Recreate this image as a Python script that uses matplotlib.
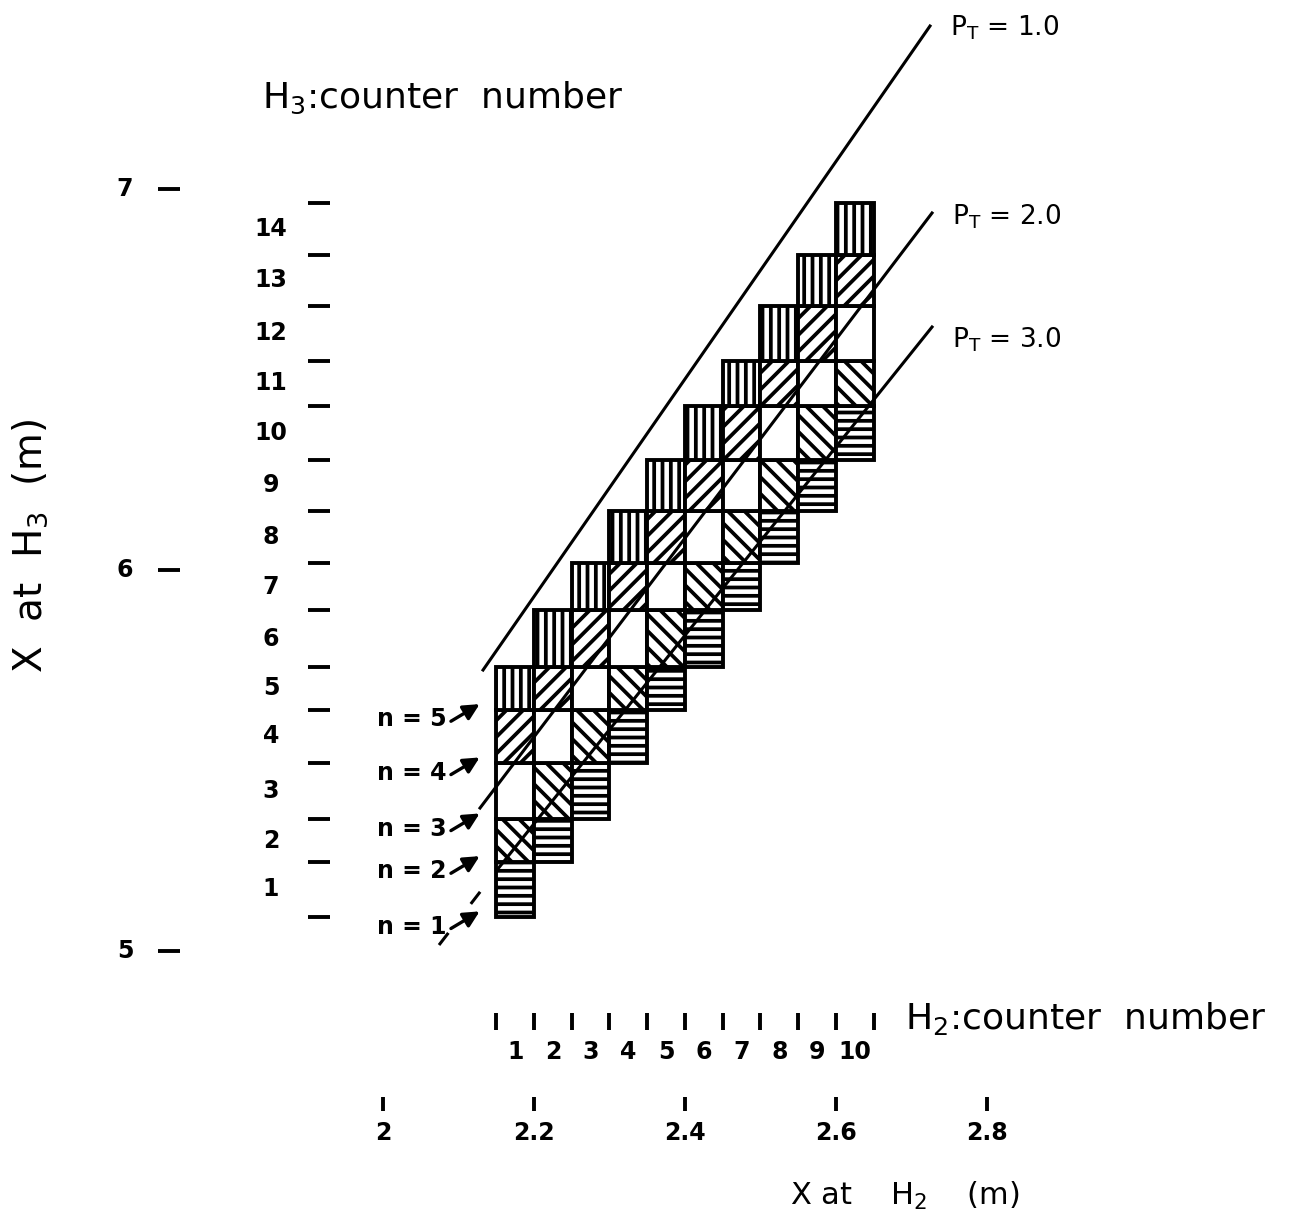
import matplotlib
matplotlib.use("Agg")
import matplotlib.pyplot as plt
from matplotlib.patches import Rectangle

plt.rcParams['font.family'] = ['DejaVu Sans']
plt.rcParams['mathtext.default'] = 'regular'
plt.rcParams['hatch.linewidth'] = 2.7

# counter boundaries in metres
h2_edges = [2.15, 2.20, 2.25, 2.30, 2.35, 2.40, 2.45, 2.50, 2.55, 2.60, 2.65]
h3_edges = [5.089, 5.234, 5.346, 5.493, 5.633, 5.745, 5.895, 6.018,
            6.155, 6.289, 6.430, 6.549, 6.693, 6.827, 6.963]
h2_labels = ['1', '2', '3', '4', '5', '6', '7', '8', '9', '10']
h3_labels = ['1', '2', '3', '4', '5', '6', '7', '8', '9', '10', '11', '12', '13', '14']

# coincidence class n = H3 - H2 + 1 and its hatching
n_values = [1, 2, 3, 4, 5]
n_hatch = ['--', '\\\\', '', '//', '||']

x_ticks = [2.0, 2.2, 2.4, 2.6, 2.8]
x_ticklabels = ['2', '2.2', '2.4', '2.6', '2.8']
y_ticks = [5, 6, 7]
y_ticklabels = ['5', '6', '7']

# constant P_T lines
pt_labels = ['1.0', '2.0', '3.0']
pt_x0 = [2.1325, 2.1285, 2.1510]
pt_y0 = [5.7375, 5.3753, 5.2126]
pt_x1 = [2.7245, 2.7272, 2.7272]
pt_y1 = [7.4278, 6.9370, 6.6378]
pt_label_y = [7.404, 6.906, 6.585]
# dashed continuation of P_T = 3.0 below the first counter
pt3_dash_x = [2.0742, 2.1510]
pt3_dash_y = [5.0157, 5.2126]

fig = plt.figure(figsize=(12.94, 12.29), dpi=100)
ax = fig.add_axes([0, 0, 1, 1])
ax.set_xlim(1.49272, 3.20662)
ax.set_ylim(4.27034, 7.49606)
ax.axis('off')

lw = 2.8
num_font = dict(fontsize=17, fontweight='bold')

# allowed (H2, H3) counter pairs
for i in range(len(h2_edges) - 1):
    for n, hatch in zip(n_values, n_hatch):
        j = i + n - 1
        x0, x1 = h2_edges[i], h2_edges[i + 1]
        y0, y1 = h3_edges[j], h3_edges[j + 1]
        ax.add_patch(Rectangle((x0, y0), x1 - x0, y1 - y0, facecolor='white',
                               edgecolor='black', hatch=hatch, lw=lw, zorder=1))

# P_T lines
for lab, xa, ya, xb, yb, ly in zip(pt_labels, pt_x0, pt_y0, pt_x1, pt_y1, pt_label_y):
    ax.plot([xa, xb], [ya, yb], color='black', lw=2.2, zorder=3)
    ax.text(xb + 0.026, ly, 'P$_T$ = ' + lab, fontsize=19, ha='left', va='baseline')
ax.plot(pt3_dash_x, pt3_dash_y, color='black', lw=2.2, dashes=(5, 12), zorder=3)

# H3 counter scale
for e in h3_edges:
    ax.plot([1.9007, 1.9298], [e, e], color='black', lw=lw, solid_capstyle='butt')
for k, lab in enumerate(h3_labels):
    ym = (h3_edges[k] + h3_edges[k + 1]) / 2
    ax.text(1.8517, ym, lab, ha='center', va='center', **num_font)
ax.text(1.8397, 7.2126, 'H$_3$:counter  number', fontsize=26, ha='left', va='baseline')

# X at H3 scale
for t, lab in zip(y_ticks, y_ticklabels):
    ax.plot([1.7020, 1.7311], [t, t], color='black', lw=lw, solid_capstyle='butt')
    ax.text(1.6583, t, lab, ha='center', va='center', **num_font)
ax.text(1.5325, 6.063, 'X  at  H$_3$  (m)', fontsize=28, rotation=90,
        ha='center', va='center')

# H2 counter scale
for e in h2_edges:
    ax.plot([e, e], [4.7927, 4.8373], color='black', lw=lw, solid_capstyle='butt')
for k, lab in enumerate(h2_labels):
    xm = (h2_edges[k] + h2_edges[k + 1]) / 2
    ax.text(xm, 4.7349, lab, ha='center', va='center', **num_font)
ax.text(2.6914, 4.795, 'H$_2$:counter  number', fontsize=26, ha='left', va='baseline')

# X at H2 scale
for t, lab in zip(x_ticks, x_ticklabels):
    ax.plot([t, t], [4.5801, 4.6168], color='black', lw=lw, solid_capstyle='butt')
    ax.text(t, 4.5223, lab, ha='center', va='center', **num_font)
ax.text(2.5391, 4.3335, 'X at    H$_2$    (m)', fontsize=22, ha='left', va='baseline')

# arrows marking each n row in the first column
for n in n_values:
    tip = (h2_edges[0] - 0.022, h3_edges[n - 1] + 0.015)
    tail = (tip[0] - 0.038, tip[1] - 0.045)
    ax.annotate('', xy=tip, xytext=tail,
                arrowprops=dict(arrowstyle='-|>', color='black', lw=2.4,
                                mutation_scale=24, shrinkA=0, shrinkB=0))
    ax.text(tail[0] - 0.006, tail[1] + 0.005, 'n = %d' % n, ha='right', va='center',
            fontsize=17, fontweight='bold')

fig.savefig('out.png', dpi=100)
